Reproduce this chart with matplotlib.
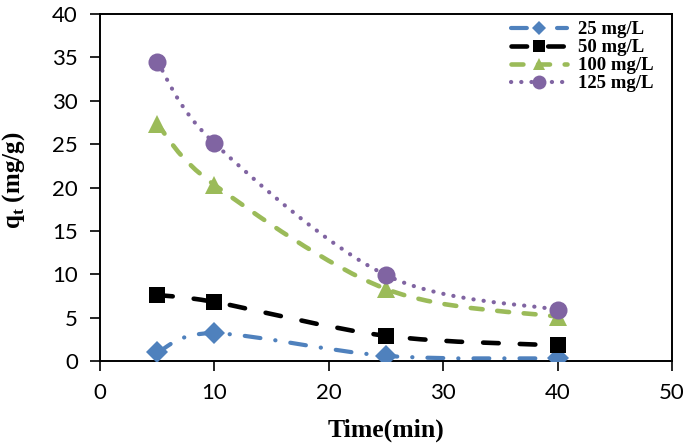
import matplotlib
matplotlib.use("Agg")
import matplotlib.pyplot as plt
from matplotlib.path import Path
from matplotlib.patches import PathPatch
from matplotlib.lines import Line2D
import numpy as np

time_min = [5, 10, 25, 40]
q_25 = [1.0, 3.2, 0.6, 0.3]
q_50 = [7.6, 6.8, 2.9, 1.8]
q_100 = [27.3, 20.3, 8.3, 5.1]
q_125 = [34.5, 25.1, 9.9, 5.9]
labels = ["25 mg/L", "50 mg/L", "100 mg/L", "125 mg/L"]
x_ticks = [0, 10, 20, 30, 40, 50]
y_ticks = [0, 5, 10, 15, 20, 25, 30, 35, 40]

plt.rcParams['mathtext.fontset'] = 'custom'
plt.rcParams['mathtext.rm'] = 'Liberation Serif:bold'
plt.rcParams['mathtext.bf'] = 'Liberation Serif:bold'


def smooth_path(xs, ys):
    """Excel-style smoothed line: cubic Bezier segments through the points."""
    pts = np.column_stack([xs, ys]).astype(float)
    n = len(pts)
    verts = [pts[0]]
    codes = [Path.MOVETO]
    for i in range(n - 1):
        p0 = pts[i - 1] if i > 0 else pts[i]
        p1 = pts[i]
        p2 = pts[i + 1]
        p3 = pts[i + 2] if i + 2 < n else pts[i + 1]
        c1 = p1 + (p2 - p0) / 6.0
        c2 = p2 - (p3 - p1) / 6.0
        verts += [c1, c2, p2]
        codes += [Path.CURVE4] * 3
    return Path(verts, codes)


styles = [
    dict(color="#4F81BD", ls=(0, (3.8, 3.6, 0.05, 3.6)), lw=3.0, marker="D", ms=11, lms=7.5),
    dict(color="#000000", ls=(0, (3.4, 4.6)), lw=3.3, marker="s", ms=12, lms=9),
    dict(color="#9BBB59", ls=(0, (2.6, 3.2)), lw=3.3, marker="^", ms=13, lms=8.5),
    dict(color="#8064A2", ls=(0, (0.05, 2.4)), lw=3.0, marker="o", ms=13, lms=10),
]
series = [q_25, q_50, q_100, q_125]

fig = plt.figure(figsize=(6.85, 4.46), dpi=100)
ax = fig.add_axes([100 / 685, 1 - 361 / 446, 572 / 685, 347 / 446])

handles = []
for ys, st, lab in zip(series, styles, labels):
    patch = PathPatch(smooth_path(time_min, ys), facecolor="none", edgecolor=st["color"],
                      lw=st["lw"], linestyle=st["ls"], capstyle="round", joinstyle="round",
                      zorder=2)
    ax.add_patch(patch)
    ax.plot(time_min, ys, linestyle="none", marker=st["marker"], ms=st["ms"],
            color=st["color"], markeredgewidth=0, zorder=3)
    h = Line2D([], [], color=st["color"], lw=st["lw"], linestyle=st["ls"],
               dash_capstyle="round", marker=st["marker"], ms=st["lms"],
               markeredgewidth=0)
    handles.append(h)

ax.set_xlim(0, 50)
ax.set_ylim(0, 40)
ax.set_xticks(x_ticks)
ax.set_yticks(y_ticks)
for s in ax.spines.values():
    s.set_linewidth(1.4)
ax.tick_params(axis="both", direction="out", length=7, width=1.2, pad=9,
               labelsize=16)
for t in ax.get_xticklabels() + ax.get_yticklabels():
    t.set_fontfamily("Lato")

ax.set_xlabel("Time(min)", fontfamily="Liberation Serif", fontweight="bold", fontsize=18.5)
ax.set_ylabel(r"q$_{\mathrm{t}}$ (mg/g)", fontfamily="Liberation Serif",
              fontweight="bold", fontsize=18)
ax.xaxis.set_label_coords(0.5, -0.165)
ax.yaxis.set_label_coords(-0.128, 0.52)

leg = ax.legend(handles, labels, loc="upper left", bbox_transform=fig.transFigure,
                bbox_to_anchor=(511 / 685, 1 - 21 / 446), frameon=False,
                prop={"family": "Liberation Serif", "weight": "bold", "size": 13.5},
                handlelength=3.0, handletextpad=0.6, labelspacing=0.05,
                borderpad=0, borderaxespad=0)

fig.savefig("out.png", dpi=100)
